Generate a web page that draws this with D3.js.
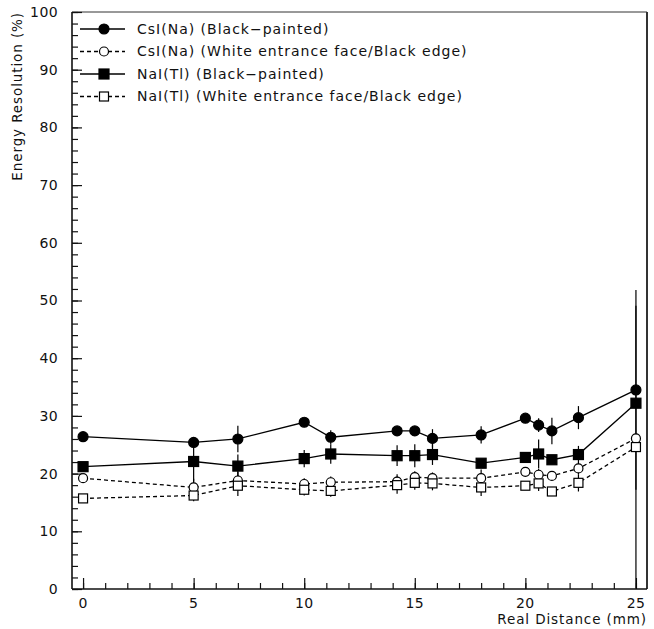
<!DOCTYPE html>
<html>
<head>
<meta charset="utf-8">
<script src="https://cdn.jsdelivr.net/npm/d3@7/dist/d3.min.js"></script>
<style>
html,body{margin:0;padding:0;background:#fff;}
svg text{font-family:"DejaVu Sans",sans-serif;fill:#111;}
</style>
</head>
<body>
<svg id="chart" width="654" height="629"></svg>
<script>
const distances = [0, 5, 7, 10, 11.2, 14.2, 15, 15.8, 18, 20, 20.6, 21.2, 22.4, 25];
const csiBlack  = [26.4, 25.4, 26.0, 28.9, 26.3, 27.4, 27.4, 26.1, 26.7, 29.6, 28.4, 27.4, 29.7, 34.5];
const csiBlackErr = [0.3, 0.3, 2.3, 0.8, 1.2, 0.4, 0.5, 1.6, 1.5, 0.5, 1.2, 2.3, 2.0, 17.3];
const csiWhite  = [19.2, 17.6, 18.8, 18.2, 18.5, 18.6, 19.4, 19.2, 19.2, 20.3, 19.8, 19.6, 20.9, 26.1];
const csiWhiteErr = [0.3, 1.5, 1.5, 1.0, 1.0, 1.3, 1.0, 1.0, 1.5, 0.6, 1.0, 0.5, 1.0, 0.8];
const naiBlack  = [21.2, 22.1, 21.3, 22.6, 23.4, 23.1, 23.1, 23.3, 21.8, 22.8, 23.4, 22.4, 23.3, 32.2];
const naiBlackErr = [0.3, 3.5, 2.0, 1.5, 1.7, 1.8, 2.0, 1.8, 0.5, 0.5, 2.5, 0.5, 1.5, 0.5];
const naiWhite  = [15.7, 16.2, 17.9, 17.2, 17.0, 18.0, 18.4, 18.3, 17.6, 17.9, 18.3, 16.9, 18.4, 24.6];
const naiWhiteErr = [0.3, 1.0, 1.8, 1.0, 1.0, 1.5, 1.2, 1.2, 1.5, 0.5, 1.3, 0.3, 1.5, 24.5];

const seriesNames = [
  "CsI(Na) (Black\u2212painted)",
  "CsI(Na) (White entrance face/Black edge)",
  "NaI(Tl) (Black\u2212painted)",
  "NaI(Tl) (White entrance face/Black edge)"
];
const yTickLabels = [0,10,20,30,40,50,60,70,80,90,100];
const xTickLabels = [0,5,10,15,20,25];

const series = [
  {name: seriesNames[0], y: csiBlack, e: csiBlackErr, marker: "circle", filled: true, dash: null},
  {name: seriesNames[1], y: csiWhite, e: csiWhiteErr, marker: "circle", filled: false, dash: "4,3"},
  {name: seriesNames[2], y: naiBlack, e: naiBlackErr, marker: "square", filled: true, dash: null},
  {name: seriesNames[3], y: naiWhite, e: naiWhiteErr, marker: "square", filled: false, dash: "4,3"}
];

const L = 72, R = 647, T = 12, B = 589;
const svg = d3.select("#chart");
const x = d3.scaleLinear().domain([-0.5, 25.5]).range([L, R]);
const y = d3.scaleLinear().domain([0, 100]).range([B, T]);

// frame top/right
svg.append("line").attr("x1", L).attr("x2", R).attr("y1", T).attr("y2", T).attr("stroke", "#333").attr("stroke-width", 1);
svg.append("line").attr("x1", R).attr("x2", R).attr("y1", T).attr("y2", B).attr("stroke", "#333").attr("stroke-width", 2);

// y axis ticks
const yAxisMinor = d3.axisRight(y).tickValues(d3.range(0, 101, 2)).tickSize(6).tickFormat("");
const gyMinor = svg.append("g").attr("transform", `translate(${L},0)`).call(yAxisMinor);
const yAxisMajor = d3.axisRight(y).tickValues(yTickLabels).tickSize(10).tickFormat("");
const gyMajor = svg.append("g").attr("transform", `translate(${L},0)`).call(yAxisMajor);
[gyMinor, gyMajor].forEach(g => { g.selectAll("path").remove(); g.selectAll("line").attr("stroke", "#111").attr("stroke-width", 1.2); });
svg.append("g").selectAll("text").data(yTickLabels).join("text")
  .attr("x", L - 14).attr("y", d => y(d)).attr("dy", "0.35em")
  .attr("text-anchor", "end").attr("font-size", 14).attr("letter-spacing", 0.4).text(d => d);

// x axis ticks
const xAxisMinor = d3.axisTop(x).tickValues(d3.range(0, 26, 1)).tickSize(6).tickFormat("");
const gxMinor = svg.append("g").attr("transform", `translate(0,${B})`).call(xAxisMinor);
const xAxisMajor = d3.axisTop(x).tickValues(xTickLabels).tickSize(11).tickFormat("");
const gxMajor = svg.append("g").attr("transform", `translate(0,${B})`).call(xAxisMajor);
[gxMinor, gxMajor].forEach(g => { g.selectAll("path").remove(); g.selectAll("line").attr("stroke", "#111").attr("stroke-width", 1.2); });
svg.append("g").selectAll("text").data(xTickLabels).join("text")
  .attr("x", d => x(d)).attr("y", B + 19)
  .attr("text-anchor", "middle").attr("font-size", 14).attr("letter-spacing", 0.4).text(d => d);

// axis lines
svg.append("line").attr("x1", L).attr("x2", L).attr("y1", T).attr("y2", B).attr("stroke", "#111").attr("stroke-width", 1.6);
svg.append("line").attr("x1", L).attr("x2", R).attr("y1", B).attr("y2", B).attr("stroke", "#111").attr("stroke-width", 1.6);

// titles
svg.append("text").attr("transform", `translate(22,${T}) rotate(-90)`)
  .attr("text-anchor", "end").attr("font-size", 13.5).attr("letter-spacing", 0.9).text("Energy Resolution (%)");
svg.append("text").attr("x", R).attr("y", 624).attr("text-anchor", "end")
  .attr("font-size", 13.5).attr("letter-spacing", 0.9).text("Real Distance (mm)");

// data
const plot = svg.append("g");
const line = d3.line().x((d, i) => x(distances[i])).y(d => y(d));

function drawMarker(g, type, filled, cx, cy) {
  if (type === "circle") {
    g.append("circle").attr("cx", cx).attr("cy", cy).attr("r", filled ? 5 : 4.5)
      .attr("fill", filled ? "#000" : "#fff").attr("stroke", "#000").attr("stroke-width", 1.2);
  } else {
    const s = filled ? 10 : 9;
    g.append("rect").attr("x", cx - s / 2).attr("y", cy - s / 2).attr("width", s).attr("height", s)
      .attr("fill", filled ? "#000" : "#fff").attr("stroke", "#000").attr("stroke-width", 1.2);
  }
}

series.forEach(s => {
  const g = plot.append("g");
  g.append("path").datum(s.y).attr("d", line).attr("fill", "none")
    .attr("stroke", "#000").attr("stroke-width", 1.3)
    .attr("stroke-dasharray", s.dash);
  g.selectAll("line.err").data(s.y).join("line").attr("class", "err")
    .attr("x1", (d, i) => x(distances[i])).attr("x2", (d, i) => x(distances[i]))
    .attr("y1", (d, i) => y(Math.max(0, d - s.e[i]))).attr("y2", (d, i) => y(Math.min(100, d + s.e[i])))
    .attr("stroke", "#000").attr("stroke-width", 1.2);
});
series.forEach(s => {
  const g = plot.append("g");
  s.y.forEach((d, i) => drawMarker(g, s.marker, s.filled, x(distances[i]), y(d)));
});

// legend
const legY = [29, 51.5, 74, 96.5];
const leg = svg.append("g");
series.forEach((s, i) => {
  const gy = legY[i];
  leg.append("line").attr("x1", 80).attr("x2", 125).attr("y1", gy).attr("y2", gy)
    .attr("stroke", "#000").attr("stroke-width", 1.3).attr("stroke-dasharray", s.dash);
  drawMarker(leg, s.marker, s.filled, 104, gy);
  leg.append("text").attr("x", 137).attr("y", gy).attr("dy", "0.35em")
    .attr("font-size", 14).attr("letter-spacing", 1.0).text(s.name);
});
</script>
</body>
</html>
